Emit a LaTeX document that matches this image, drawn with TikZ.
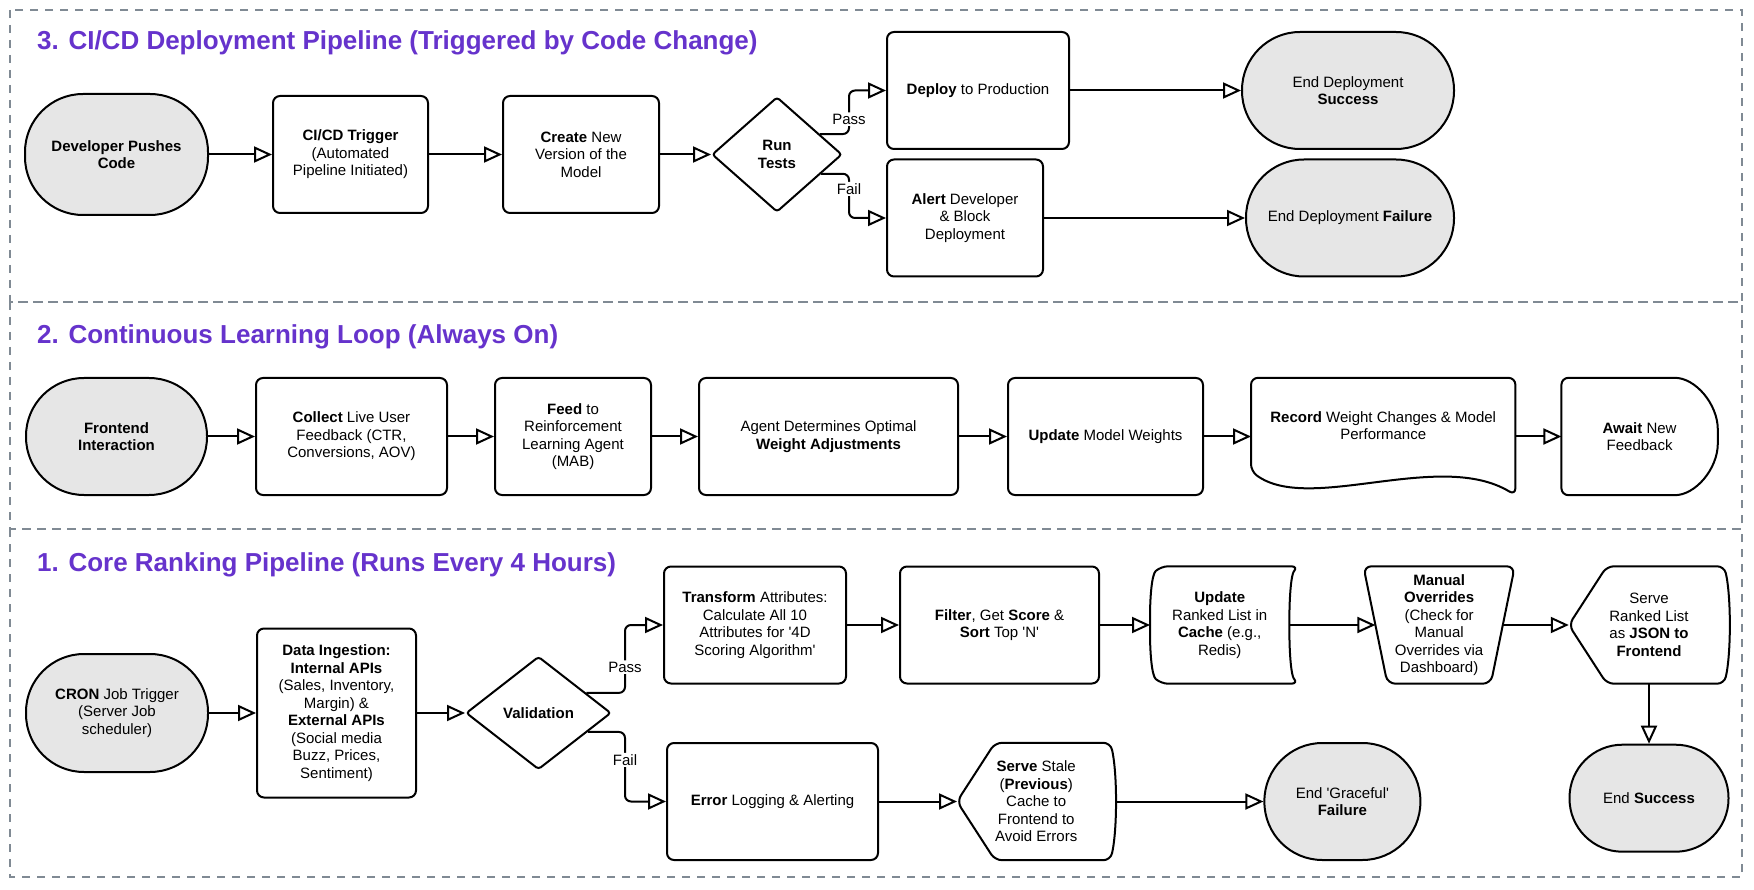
\documentclass[tikz,border=0pt]{standalone}
\usepackage{fontspec}
\setmainfont{Liberation Sans}
\usepackage{tikz}
\usetikzlibrary{shapes.geometric,arrows.meta,positioning,calc}
\definecolor{titlepurple}{RGB}{102,51,204}
\definecolor{termgray}{RGB}{230,230,230}
\definecolor{framegray}{RGB}{128,138,148}
\tikzset{
    block/.style={rectangle, draw, line width=2pt, rounded corners=7pt, minimum height=117pt, inner sep=0pt},
    term/.style={rectangle, draw, line width=2pt, fill=termgray, rounded corners=#1, minimum height=117pt, inner sep=0pt},
    term/.default=58pt,
    decision/.style={diamond, draw, line width=2pt, rounded corners=3pt, inner sep=0pt},
    shapebox/.style={rectangle, minimum height=117pt, inner sep=0pt},
    shapeline/.style={draw, line width=2pt, rounded corners=7pt},
    line/.style={draw, line width=2pt, -{Triangle[open, length=18pt, width=16pt]}},
    branchlabel/.style={fill=white, inner sep=1.5pt},
    headline/.style={anchor=base west, inner sep=0pt, text=titlepurple, font=\fontsize{26}{31}\selectfont\bfseries},
    sectionframe/.style={draw=framegray, line width=1.5pt, dash pattern=on 8pt off 7pt}
}

\begin{document}
\begin{tikzpicture}[x=1pt, y=-1pt, every node/.style={font=\fontsize{15}{17.5}\selectfont, align=center}]
    \fill [white] (0,0) rectangle (1754,890);
    \useasboundingbox (0,0) rectangle (1754,890);

    % Section frames
    \draw [sectionframe] (10,10) rectangle (1742,302);
    \draw [sectionframe] (10,302) rectangle (1742,529);
    \draw [sectionframe] (10,529) rectangle (1742,877);

    % 3. CI/CD deployment pipeline
    \node [headline] (head3) at (37,50) {3. CI/CD Deployment Pipeline (Triggered by Code Change)};
    \node [term, minimum width=183pt, minimum height=121pt] (dev) at (116.5,154.5) {\textbf{Developer Pushes}\\\textbf{Code}};
    \node [block, minimum width=155pt, right=63pt of dev] (cicd) {\textbf{CI/CD Trigger}\\(Automated\\Pipeline Initiated)};
    \node [block, minimum width=156pt, right=73pt of cicd] (create) {\textbf{Create} New\\Version of the\\Model};
    \node [decision, minimum width=130pt, minimum height=115pt, right=51pt of create] (run) {\textbf{Run}\\\textbf{Tests}};
    \node [block, minimum width=182pt] (deploy) at (978,90.5) {\textbf{Deploy} to Production};
    \node [block, minimum width=156pt] (alert) at (965,218) {\textbf{Alert} Developer\\\& Block\\Deployment};
    \node [term, minimum width=212pt] (endok3) at (1348,90.5) {End Deployment\\\textbf{Success}};
    \node [term, minimum width=208pt] (endfail3) at (1350,218) {End Deployment \textbf{Failure}};

    \draw [line] (dev) -- (cicd);
    \draw [line] (cicd) -- (create);
    \draw [line] (create) -- (run);
    \draw [line, rounded corners=6pt] ($(run.east)!0.35!(run.north)$) -| node [branchlabel, pos=0.67] (passci) {Pass} ($(deploy.west)+(-37,0)$) -- (deploy.west);
    \draw [line, rounded corners=6pt] ($(run.east)!0.33!(run.south)$) -| node [branchlabel, pos=0.67] (failci) {Fail} ($(alert.west)+(-37,0)$) -- (alert.west);
    \draw [line] (deploy) -- (endok3);
    \draw [line] (alert) -- (endfail3);

    % 2. Continuous learning loop
    \node [headline] (head2) at (37,344) {2. Continuous Learning Loop (Always On)};
    \node [term, minimum width=181pt] (front) at (116.5,436.5) {\textbf{Frontend}\\\textbf{Interaction}};
    \node [block, minimum width=191pt, right=47pt of front] (collect) {\textbf{Collect} Live User\\Feedback (CTR,\\Conversions, AOV)};
    \node [block, minimum width=156pt, right=46pt of collect] (feed) {\textbf{Feed} to\\Reinforcement\\Learning Agent\\(MAB)};
    \node [block, minimum width=259pt, right=46pt of feed] (agent) {Agent Determines Optimal\\\textbf{Weight Adjustments}};
    \node [block, minimum width=195pt, right=48pt of agent] (weights) {\textbf{Update} Model Weights};
    \node [shapebox, minimum width=264pt, right=47pt of weights] (record) {};
    \node (recordtext) at ([yshift=11pt]record.center) {\textbf{Record} Weight Changes \& Model\\Performance};
    \node [shapebox, minimum width=156pt, right=46pt of record] (await) {\textbf{Await} New\\Feedback};

    \draw [shapeline] (record.north west) -- (record.north east) -- (record.south east)
        .. controls ([shift={(-76,-46)}]record.south east) and ([shift={(58,19)}]record.south west) .. ([shift={(0,-24)}]record.south west) -- cycle;
    \draw [shapeline] (await.north west) -- ([shift={(-50,0)}]await.north east)
        .. controls ([shift={(-22.4,0)}]await.north east) and ([shift={(0,-32.3)}]await.east) .. (await.east)
        .. controls ([shift={(0,32.3)}]await.east) and ([shift={(-22.4,0)}]await.south east) .. ([shift={(-50,0)}]await.south east)
        -- (await.south west) -- cycle;

    \draw [line] (front) -- (collect);
    \draw [line] (collect) -- (feed);
    \draw [line] (feed) -- (agent);
    \draw [line] (agent) -- (weights);
    \draw [line] (weights) -- (record);
    \draw [line] (record) -- (await);

    % 1. Core ranking pipeline
    \node [headline] (head1) at (37,571) {1. Core Ranking Pipeline (Runs Every 4 Hours)};
    \node [term, minimum width=182pt, minimum height=118pt] (cron) at (117,713) {\textbf{CRON} Job Trigger\\(Server Job\\scheduler)};
    \node [block, minimum width=159pt, minimum height=169pt, right=47pt of cron] (ingest) {\textbf{Data Ingestion:}\\\textbf{Internal APIs}\\(Sales, Inventory,\\Margin) \&\\\textbf{External APIs}\\(Social media\\Buzz, Prices,\\Sentiment)};
    \node [decision, minimum width=145pt, minimum height=113pt, right=48pt of ingest] (valid) {\textbf{Validation}};
    \node [block, minimum width=182pt] (transform) at (755,625) {\textbf{Transform} Attributes:\\Calculate All 10\\Attributes for \textquotesingle 4D\\Scoring Algorithm\textquotesingle};
    \node [block, minimum width=199pt, right=52pt of transform] (filter) {\textbf{Filter}, Get \textbf{Score} \&\\\textbf{Sort} Top \textquotesingle N\textquotesingle};
    \node [shapebox, minimum width=139pt, right=50pt of filter] (cache) {\textbf{Update}\\Ranked List in\\\textbf{Cache} (e.g.,\\Redis)};
    \node [shapebox, minimum width=127pt, right=86pt of cache] (manual) {\textbf{Manual}\\\textbf{Overrides}\\(Check for\\Manual\\Overrides via\\Dashboard)};
    \node [shapebox, minimum width=160pt, right=66pt of manual] (serve) {Serve\\Ranked List\\as \textbf{JSON to}\\\textbf{Frontend}};
    \node [term=53pt, minimum width=159pt, minimum height=107pt, below=60pt of serve] (endok) {End \textbf{Success}};
    \node [block, minimum width=211pt] (error) at (772.5,801.5) {\textbf{Error} Logging \& Alerting};
    \node [shapebox, minimum width=158pt, right=78pt of error] (stale) {\textbf{Serve} Stale\\(\textbf{Previous})\\Cache to\\Frontend to\\Avoid Errors};
    \node [term, minimum width=156pt, right=148pt of stale] (endgrace) {End \textquotesingle Graceful\textquotesingle\\\textbf{Failure}};

    % shape outlines
    \draw [shapeline] (cache.north) -- ([shift={(9,0)}]cache.north east)
        .. controls ([shift={(2,8)}]cache.north east) and ([shift={(0,-30)}]cache.east) .. (cache.east)
        .. controls ([shift={(0,30)}]cache.east) and ([shift={(2,-8)}]cache.south east) .. ([shift={(9,0)}]cache.south east)
        -- ([shift={(11,0)}]cache.south west)
        .. controls ([shift={(2,-8)}]cache.south west) and ([shift={(0,30)}]cache.west) .. (cache.west)
        .. controls ([shift={(0,-30)}]cache.west) and ([shift={(2,8)}]cache.north west) .. ([shift={(11,0)}]cache.north west) -- cycle;
    \draw [shapeline, rounded corners=8pt] ([shift={(-12,0)}]manual.north west) -- ([shift={(12,0)}]manual.north east) -- ([shift={(-12,0)}]manual.south east) -- ([shift={(12,0)}]manual.south west) -- cycle;
    \draw [shapeline] (serve.west) -- ([shift={(38,0)}]serve.north west) -- ([shift={(-5,0)}]serve.north east)
        .. controls ([shift={(2,30)}]serve.north east) and ([shift={(2,-30)}]serve.south east) .. ([shift={(-5,0)}]serve.south east)
        -- ([shift={(38,0)}]serve.south west) -- cycle;
    \draw [shapeline] (stale.west) -- ([shift={(38,0)}]stale.north west) -- ([shift={(-5,0)}]stale.north east)
        .. controls ([shift={(2,30)}]stale.north east) and ([shift={(2,-30)}]stale.south east) .. ([shift={(-5,0)}]stale.south east)
        -- ([shift={(38,0)}]stale.south west) -- cycle;

    \draw [line] (cron) -- (ingest);
    \draw [line] (ingest) -- (valid);
    \draw [line, rounded corners=6pt] ($(valid.east)!0.35!(valid.north)$) -| node [branchlabel, pos=0.69] (passcore) {Pass} ($(transform.west)+(-38,0)$) -- (transform.west);
    \draw [line, rounded corners=6pt] ($(valid.east)!0.33!(valid.south)$) -| node [branchlabel, pos=0.7] (failcore) {Fail} ($(error.west)+(-41,0)$) -- (error.west);
    \draw [line] (transform) -- (filter);
    \draw [line] (filter) -- (cache);
    \draw [line] (cache) -- (manual);
    \draw [line] (manual) -- (serve);
    \draw [line] (serve) -- (endok);
    \draw [line] (error) -- (stale);
    \draw [line] (stale) -- (endgrace);
\end{tikzpicture}
\end{document}
